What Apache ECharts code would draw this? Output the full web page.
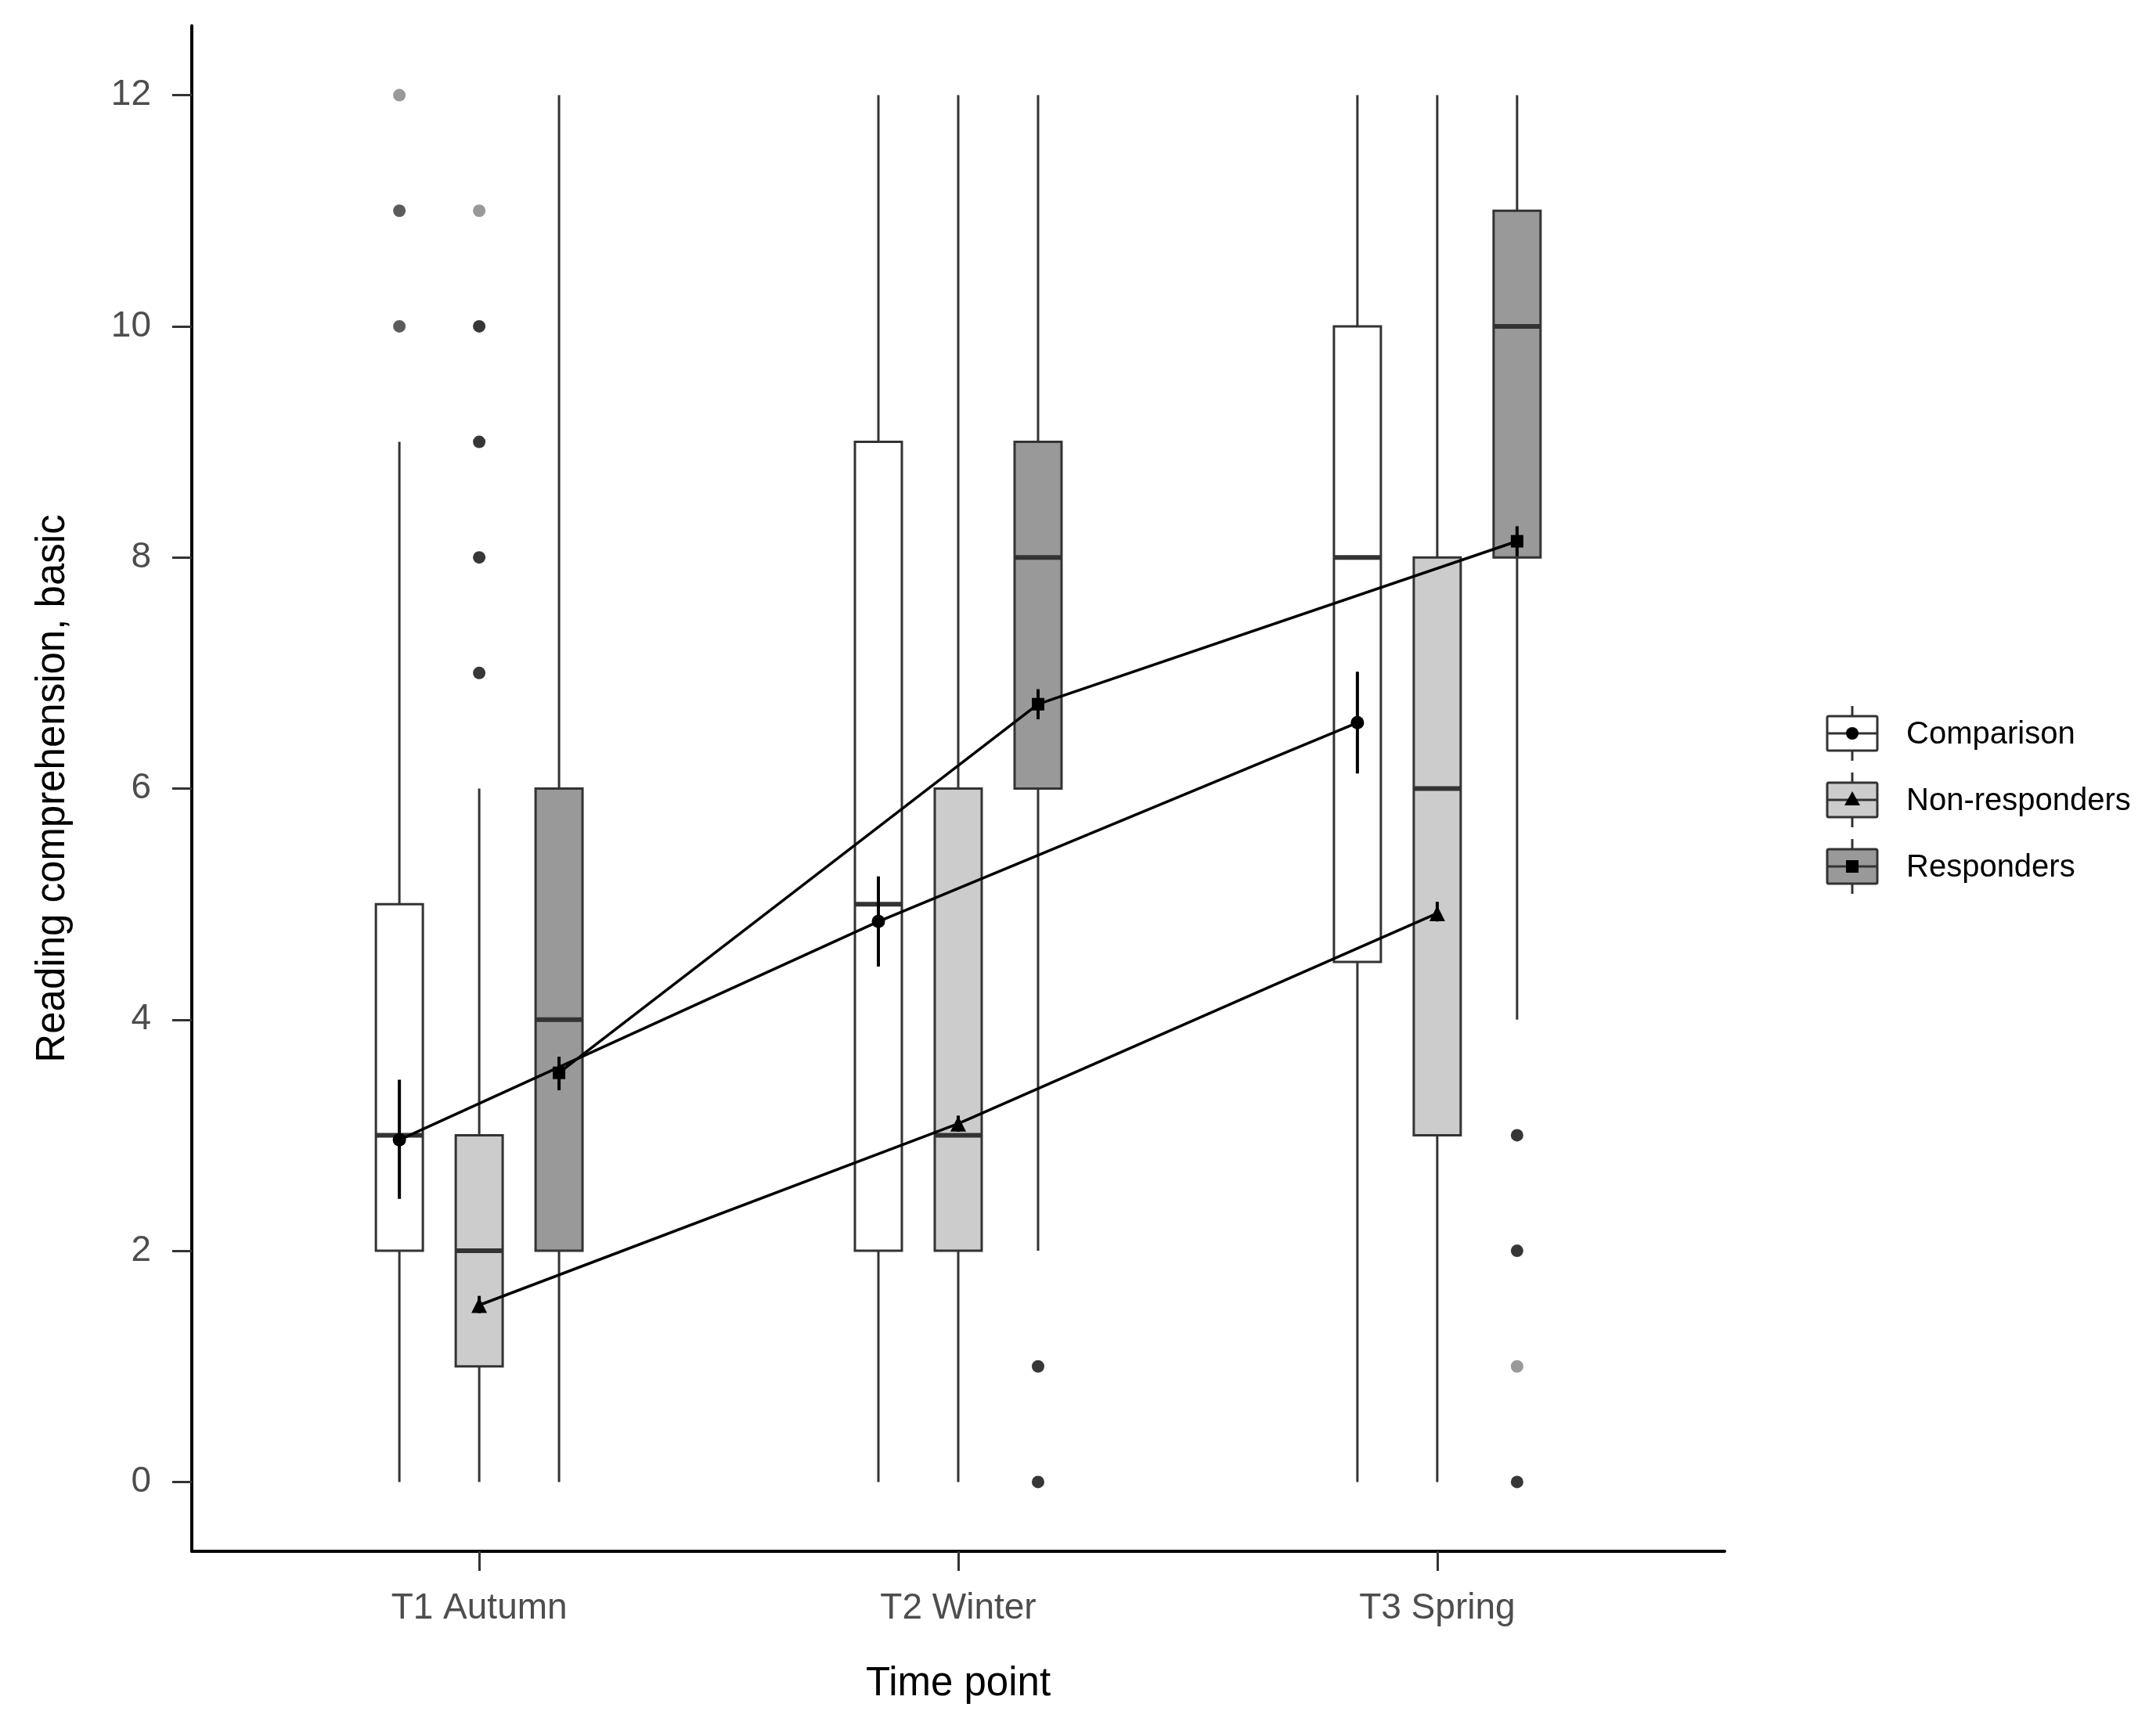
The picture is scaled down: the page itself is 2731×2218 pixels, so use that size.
<!DOCTYPE html>
<html>
<head>
<meta charset="utf-8">
<script src="https://cdn.jsdelivr.net/npm/echarts@6/dist/echarts.min.js"></script>
<style>
  html, body { margin: 0; padding: 0; background: #fff; }
  #chart { width: 2731px; height: 2218px; }
</style>
</head>
<body>
<div id="chart"></div>
<script>
const timePoints = ['T1 Autumn', 'T2 Winter', 'T3 Spring']
const groups = ['Comparison', 'Non-responders', 'Responders']
const yTicks = [0, 2, 4, 6, 8, 10, 12]

// [low whisker, Q1, median, Q3, high whisker] per time point
const comparisonBox = [[0, 2, 3, 5, 9], [0, 2, 5, 9, 12], [0, 4.5, 8, 10, 12]]
const nonResponderBox = [[0, 1, 2, 3, 6], [0, 2, 3, 6, 12], [0, 3, 6, 8, 12]]
const responderBox = [[0, 2, 4, 6, 12], [2, 6, 8, 9, 12], [4, 8, 10, 11, 12]]

// means and error bar ends per time point
const comparisonMean = [2.96, 4.85, 6.57]
const comparisonLow = [2.45, 4.46, 6.13]
const comparisonHigh = [3.48, 5.24, 7.01]
const nonResponderMean = [1.53, 3.10, 4.92]
const nonResponderLow = [1.46, 3.03, 4.85]
const nonResponderHigh = [1.61, 3.17, 5.02]
const responderMean = [3.54, 6.73, 8.14]
const responderLow = [3.39, 6.60, 8.01]
const responderHigh = [3.68, 6.86, 8.27]

// outliers: [time index, value, overlapping points]
const comparisonOutliers = [[0, 10, 2], [0, 11, 2], [0, 12, 1]]
const nonResponderOutliers = [[0, 7, 3], [0, 8, 3], [0, 9, 3], [0, 10, 3], [0, 11, 1]]
const responderOutliers = [[1, 0, 3], [1, 1, 3], [2, 0, 3], [2, 1, 1], [2, 2, 3], [2, 3, 3]]

const DODGE = 1 / 6
const BOX_W = 0.098
const fills = ['#ffffff', '#cccccc', '#999999']
const symbols = ['circle', 'triangle', 'rect']
const symbolSizes = [17, 20, 16]
const boxes = [comparisonBox, nonResponderBox, responderBox]
const means = [comparisonMean, nonResponderMean, responderMean]
const lows = [comparisonLow, nonResponderLow, responderLow]
const highs = [comparisonHigh, nonResponderHigh, responderHigh]
const outliers = [comparisonOutliers, nonResponderOutliers, responderOutliers]
const FONT = 'Liberation Sans, Arial, sans-serif'

function xPos(t, g) {
  return t + 1 + (g - 1) * DODGE
}

// grey from overlapping black points with alpha 0.4
function shade(n) {
  const v = Math.round(255 * Math.pow(0.6, n))
  return 'rgb(' + v + ',' + v + ',' + v + ')'
}

function boxRenderer(fill) {
  return function (params, api) {
    const x = api.value(0)
    const lo = api.coord([x, api.value(1)])
    const q1 = api.coord([x, api.value(2)])
    const med = api.coord([x, api.value(3)])
    const q3 = api.coord([x, api.value(4)])
    const hi = api.coord([x, api.value(5)])
    const w = api.size([BOX_W, 0])[0]
    const cx = lo[0]
    const line = { stroke: '#333333', lineWidth: 3 }
    return {
      type: 'group',
      children: [
        { type: 'line', shape: { x1: cx, y1: hi[1], x2: cx, y2: q3[1] }, style: line },
        { type: 'line', shape: { x1: cx, y1: q1[1], x2: cx, y2: lo[1] }, style: line },
        { type: 'rect', shape: { x: cx - w / 2, y: q3[1], width: w, height: q1[1] - q3[1] },
          style: { fill: fill, stroke: '#333333', lineWidth: 3 } },
        { type: 'line', shape: { x1: cx - w / 2, y1: med[1], x2: cx + w / 2, y2: med[1] },
          style: { stroke: '#333333', lineWidth: 6 } }
      ]
    }
  }
}

function errorRenderer(params, api) {
  const a = api.coord([api.value(0), api.value(1)])
  const b = api.coord([api.value(0), api.value(2)])
  return {
    type: 'line',
    shape: { x1: a[0], y1: a[1], x2: b[0], y2: b[1] },
    style: { stroke: '#000000', lineWidth: 4 }
  }
}

const series = []
groups.forEach(function (name, g) {
  series.push({
    name: name,
    type: 'custom',
    z: 2,
    renderItem: boxRenderer(fills[g]),
    data: boxes[g].map(function (b, t) { return [xPos(t, g)].concat(b) })
  })
  series.push({
    type: 'scatter',
    z: 3,
    symbolSize: 16,
    data: outliers[g].map(function (o) {
      return { value: [xPos(o[0], g), o[1]], itemStyle: { color: shade(o[2]), opacity: 1 } }
    })
  })
})
groups.forEach(function (name, g) {
  series.push({
    type: 'line',
    z: 4,
    symbol: symbols[g],
    symbolSize: symbolSizes[g],
    itemStyle: { color: '#000000' },
    lineStyle: { color: '#000000', width: 3.5 },
    data: means[g].map(function (m, t) { return [xPos(t, g), m] })
  })
  series.push({
    type: 'custom',
    z: 5,
    renderItem: errorRenderer,
    data: means[g].map(function (m, t) { return [xPos(t, g), lows[g][t], highs[g][t]] })
  })
})

// legend keys
const legendItems = []
groups.forEach(function (name, g) {
  const cy = 937 + g * 85
  const cx = 2366
  const marker = g === 0
    ? { type: 'circle', shape: { cx: cx, cy: cy, r: 8 }, style: { fill: '#000' } }
    : g === 1
      ? { type: 'polygon', shape: { points: [[cx, cy - 11], [cx - 10, cy + 7], [cx + 10, cy + 7]] }, style: { fill: '#000' } }
      : { type: 'rect', shape: { x: cx - 8, y: cy - 8, width: 16, height: 16 }, style: { fill: '#000' } }
  legendItems.push(
    { type: 'line', shape: { x1: cx, y1: cy - 35, x2: cx, y2: cy + 35 }, style: { stroke: '#333', lineWidth: 3 } },
    { type: 'rect', shape: { x: cx - 32, y: cy - 22, width: 64, height: 44, r: 2 }, style: { fill: fills[g], stroke: '#333', lineWidth: 3 } },
    { type: 'line', shape: { x1: cx - 32, y1: cy, x2: cx + 32, y2: cy }, style: { stroke: '#333', lineWidth: 3 } },
    marker,
    { type: 'text', x: 2435, y: cy + 2, style: { text: name, font: '40px ' + FONT, fill: '#000', verticalAlign: 'middle' } }
  )
})

const chart = echarts.init(document.getElementById('chart'))
chart.setOption({
  backgroundColor: '#ffffff',
  animation: false,
  grid: { left: 245, right: 528, top: 33, bottom: 236 },
  xAxis: {
    type: 'value',
    min: 0.4,
    max: 3.6,
    name: 'Time point',
    nameLocation: 'middle',
    nameGap: 144,
    nameTextStyle: { fontSize: 51, color: '#000', fontFamily: FONT },
    axisLine: { onZero: false, lineStyle: { color: '#000', width: 4 } },
    axisTick: { customValues: [1, 2, 3], length: 25, lineStyle: { color: '#333', width: 3 } },
    axisLabel: {
      customValues: [1, 2, 3],
      margin: 50,
      fontSize: 46,
      color: '#4d4d4d',
      fontFamily: FONT,
      formatter: function (v) { return timePoints[Math.round(v) - 1] }
    },
    splitLine: { show: false }
  },
  yAxis: {
    type: 'value',
    min: -0.6,
    max: 12.6,
    name: 'Reading comprehension, basic',
    nameLocation: 'middle',
    nameGap: 152,
    nameTextStyle: { fontSize: 51, color: '#000', fontFamily: FONT },
    axisLine: { show: true, onZero: false, lineStyle: { color: '#000', width: 4 } },
    axisTick: { show: true, customValues: yTicks, length: 25, lineStyle: { color: '#333', width: 3 } },
    axisLabel: { customValues: yTicks, margin: 52, fontSize: 46, color: '#4d4d4d', fontFamily: FONT },
    splitLine: { show: false }
  },
  graphic: legendItems,
  series: series
})
</script>
</body>
</html>
